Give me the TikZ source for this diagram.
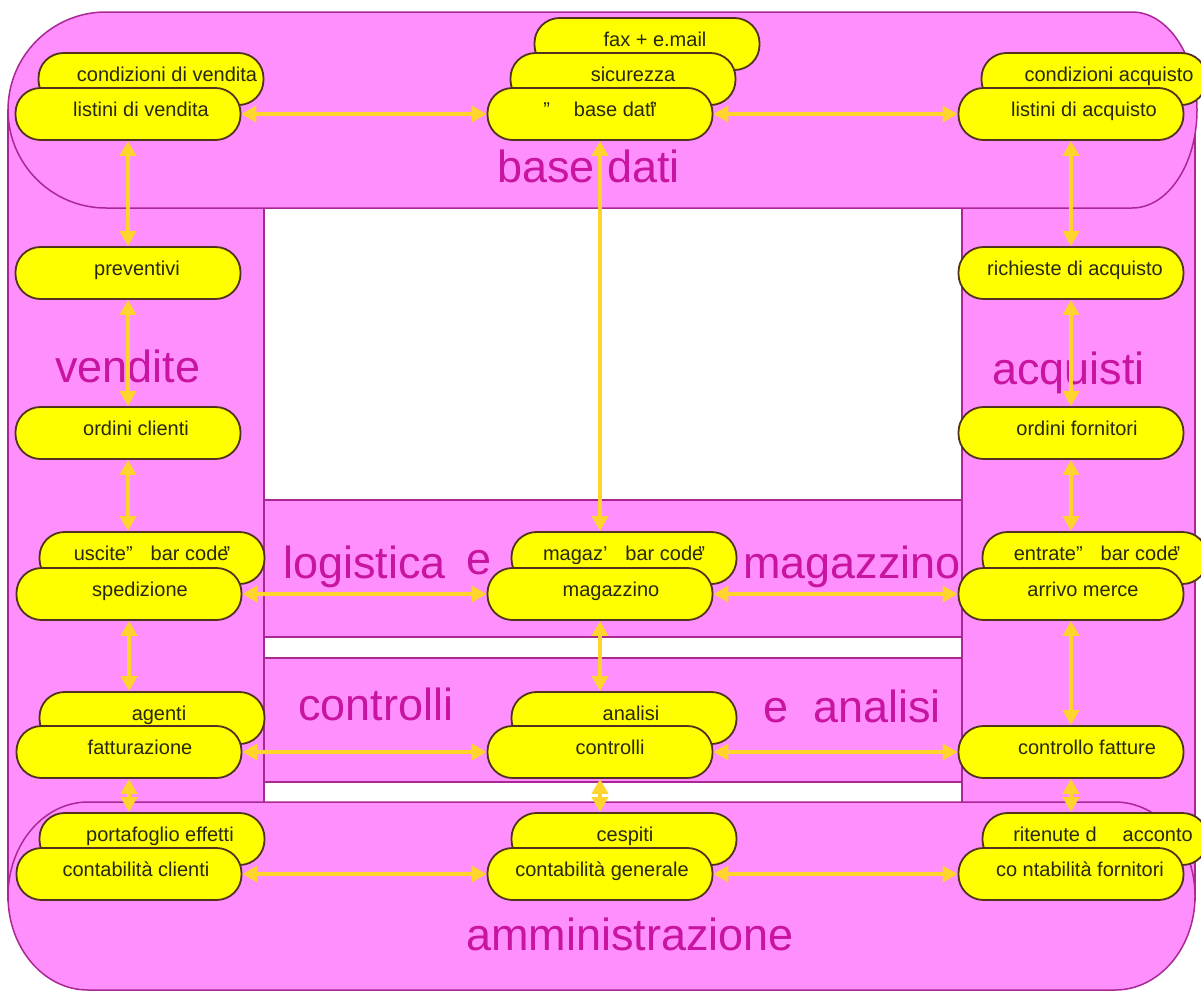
\documentclass[tikz,border=0pt]{standalone}
\usepackage{fontspec}
\setmainfont{Liberation Sans}
\usetikzlibrary{arrows.meta}
\definecolor{bgpink}{RGB}{255,143,252}
\definecolor{edgec}{RGB}{170,40,150}
\definecolor{titlec}{RGB}{200,20,160}
\definecolor{boxfill}{RGB}{255,255,0}
\definecolor{boxline}{RGB}{80,50,30}
\definecolor{boxtext}{RGB}{40,40,15}
\definecolor{arrowc}{RGB}{255,212,45}
\begin{document}
\begin{tikzpicture}[x=1pt,y=-1pt,
  band/.style={fill=bgpink, draw=edgec, line width=1.5pt},
  pill/.style={draw=boxline, line width=1.8pt, fill=boxfill, rounded corners=25pt,
    minimum width=225pt, minimum height=52pt, inner sep=0pt, text=boxtext,
    font=\fontsize{20}{22}\selectfont, text height=14pt, text depth=9pt},
  big/.style={text=titlec, font=\fontsize{45}{50}\selectfont, inner sep=0pt, anchor=base west},
  link/.style={draw=arrowc, line width=4pt,
    {Triangle[length=15pt,width=16pt]}-{Triangle[length=15pt,width=16pt]}},
]
\useasboundingbox (0,0) rectangle (1201,993);
\fill[white] (0,0) rectangle (1201,993);

% backgrounds
\draw[band] (8,110) rectangle (264,900);
\draw[band] (962,110) rectangle (1195,900);
\draw[band] (264,500) rectangle (962,637);
\draw[band] (264,658) rectangle (962,782);
\draw[band] (106,12) -- (1132,12) arc[start angle=-90,end angle=90,x radius=65,y radius=98]
  -- (106,208) arc[start angle=90,end angle=270,radius=98] -- cycle;
\draw[band] (88,802) -- (1115,802) arc[start angle=-90,end angle=90,x radius=80,y radius=94]
  -- (88,990) arc[start angle=90,end angle=270,x radius=80,y radius=94] -- cycle;

% big labels
\node[big] (tbd) at (497,182) {base dati};
\node[big] (tven) at (55,382) {vendite};
\node[big] (tacq) at (992,384) {acquisti};
\node[big] (tlog) at (283,578) {logistica};
\node[big] (te1) at (466,574) {e};
\node[big] (tmag) at (743,578) {magazzino};
\node[big] (tcon) at (298,720) {controlli};
\node[big] (tana) at (763,722) {e~~analisi};
\node[big] (tamm) at (466,950) {amministrazione};

% back nodes
\node[pill] (fax) at (647,44) {\hspace*{16pt}fax + e.mail};
\node[pill] (cv) at (151,79) {\hspace*{32pt}condizioni di vendita};
\node[pill] (sic) at (623,79) {\hspace*{20pt}sicurezza};
\node[pill] (ca) at (1094,79) {\hspace*{30pt}condizioni acquisto};
\node[pill] (usc) at (152,558) {uscite"\hspace{0.9em}bar code\kern-0.25em"};
\node[pill] (mgb) at (624,558) {magaz'\hspace{0.9em}bar code\kern-0.25em"};
\node[pill] (ent) at (1095,558) {\hspace*{4pt}entrate"\hspace{0.9em}bar code\kern-0.25em"};
\node[pill] (age) at (152,718) {\hspace*{14pt}agenti};
\node[pill] (ana) at (624,718) {\hspace*{14pt}analisi};
\node[pill] (pe) at (152,839) {\hspace*{16pt}portafoglio effetti};
\node[pill] (ces) at (624,839) {\hspace*{2pt}cespiti};
\node[pill] (rit) at (1095,839) {\hspace*{16pt}ritenute d\hspace{1.3em}acconto};

% front nodes
\node[pill] (lv) at (128,114) {\hspace*{26pt}listini di vendita};
\node[pill] (bd) at (600,114) {"\hspace{1.2em}base dati\kern-0.25em"};
\node[pill] (la) at (1071,114) {\hspace*{26pt}listini di acquisto};
\node[pill] (prev) at (128,273) {\hspace*{18pt}preventivi};
\node[pill] (rich) at (1071,273) {\hspace*{8pt}richieste di acquisto};
\node[pill] (oc) at (128,433) {\hspace*{16pt}ordini clienti};
\node[pill] (of) at (1071,433) {\hspace*{12pt}ordini fornitori};
\node[pill] (sped) at (129,594) {\hspace*{22pt}spedizione};
\node[pill] (mag) at (600,594) {\hspace*{22pt}magazzino};
\node[pill] (arr) at (1071,594) {\hspace*{24pt}arrivo merce};
\node[pill] (fat) at (129,752) {\hspace*{22pt}fatturazione};
\node[pill] (ctr) at (600,752) {\hspace*{20pt}controlli};
\node[pill] (cf) at (1071,752) {\hspace*{32pt}controllo fatture};
\node[pill] (ccl) at (129,874) {\hspace*{14pt}contabilità clienti};
\node[pill] (cg) at (600,874) {\hspace*{4pt}contabilità generale};
\node[pill] (cfo) at (1071,874) {\hspace*{18pt}co ntabilità fornitori};

% horizontal links
\draw[link] (lv.east) -- (bd.west);
\draw[link] (bd.east) -- (la.west);
\draw[link] (sped.east) -- (mag.west);
\draw[link] (mag.east) -- (arr.west);
\draw[link] (fat.east) -- (ctr.west);
\draw[link] (ctr.east) -- (cf.west);
\draw[link] (ccl.east) -- (cg.west);
\draw[link] (cg.east) -- (cfo.west);

% vertical links
\draw[link] (lv.south) -- (prev.north);
\draw[link] (prev.south) -- (oc.north);
\draw[link] (oc.south) -- (oc.south |- usc.north);
\draw[link] (sped.south) -- (sped.south |- age.north);
\draw[link] (fat.south) -- (fat.south |- pe.north);
\draw[link] (bd.south) -- (bd.south |- mgb.north);
\draw[link] (mag.south) -- (mag.south |- ana.north);
\draw[link] (ctr.south) -- (ctr.south |- ces.north);
\draw[link] (la.south) -- (rich.north);
\draw[link] (rich.south) -- (of.north);
\draw[link] (of.south) -- (of.south |- ent.north);
\draw[link] (arr.south) -- (cf.north);
\draw[link] (cf.south) -- (cf.south |- rit.north);
\end{tikzpicture}
\end{document}
